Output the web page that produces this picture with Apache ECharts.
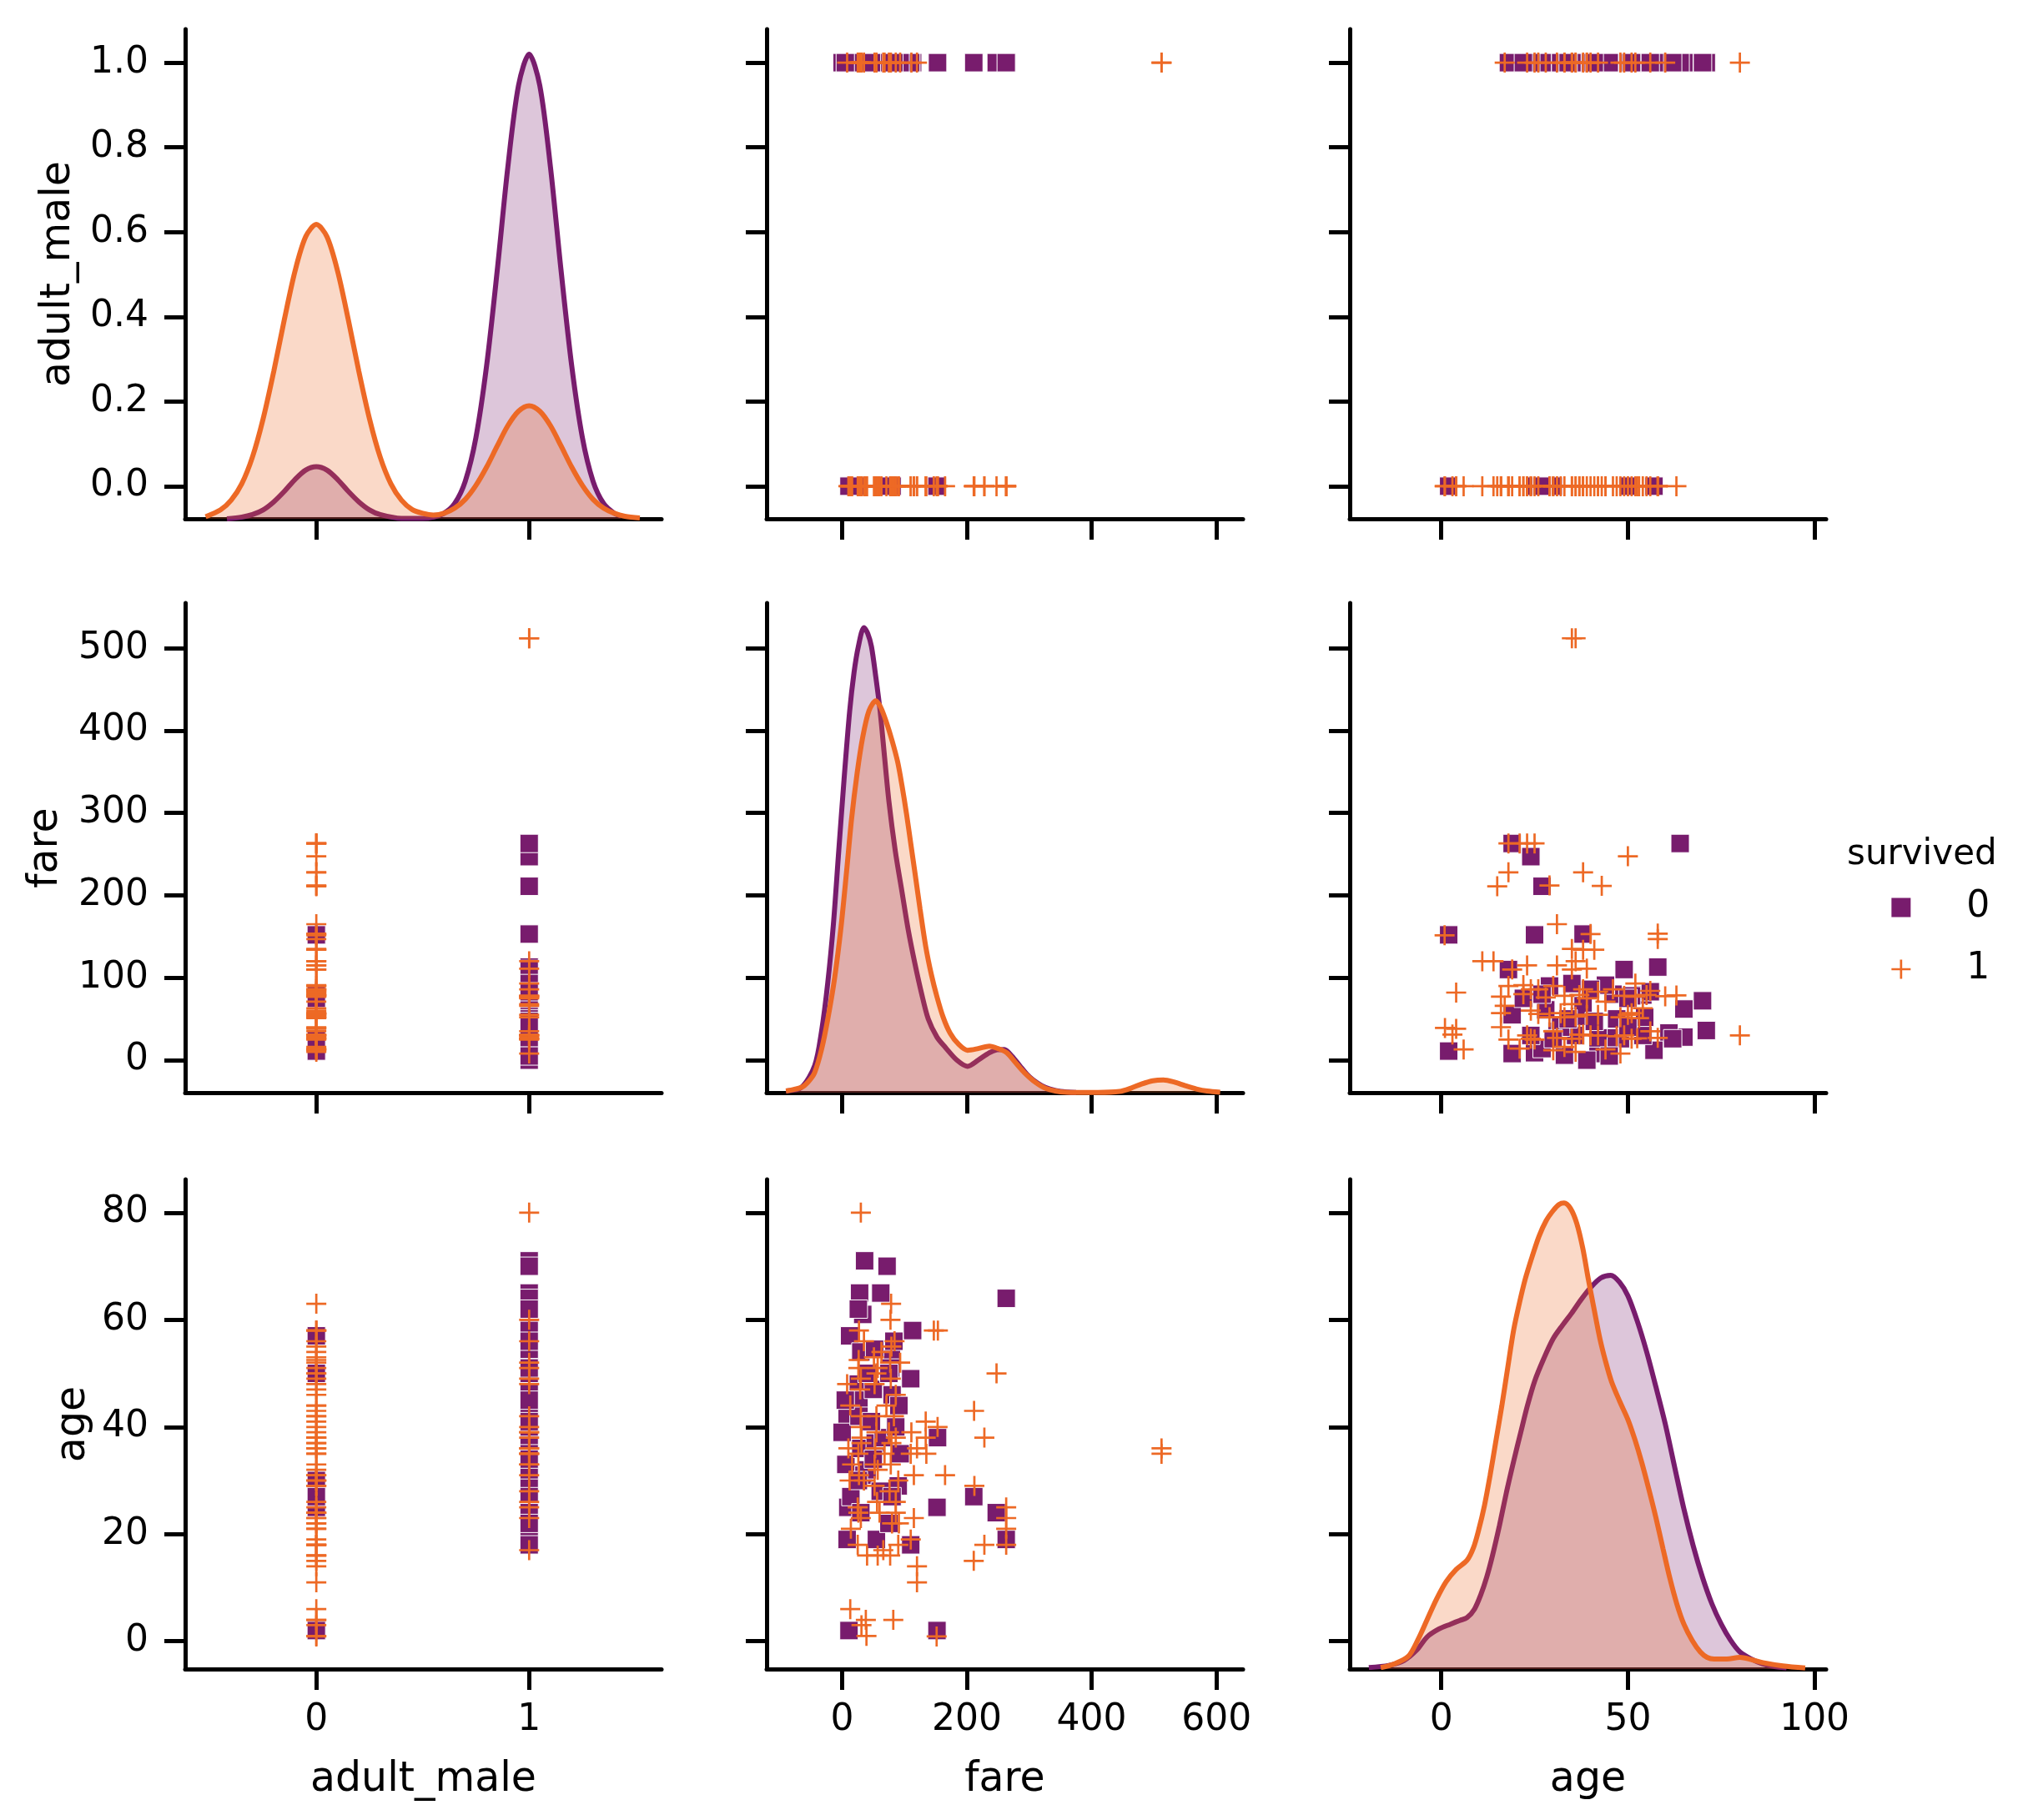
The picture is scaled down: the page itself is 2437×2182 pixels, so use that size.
<!DOCTYPE html>
<html><head><meta charset="utf-8">
<script src="https://cdn.jsdelivr.net/npm/echarts@6/dist/echarts.min.js"></script>
<style>html,body{margin:0;padding:0;background:#fff}#c{width:2437px;height:2182px}</style>
</head><body><div id="c"></div>
<script>
// ---------------- data ----------------
const variables = ['adult_male', 'fare', 'age'];
const hueTitle = 'survived';
const hueLevels = ['0', '1'];

// survived = 0
const died_adult_male = [1,1,1,1,1,1,1,0,1,1,1,1,1,1,1,1,1,1,1,0,1,1,1,1,1,1,0,0,1,1,1,1,1,1,1,1,1,1,1,1,1,1,1,1,1,0,0,0,1,1,1,1,1,1,1];
const died_fare = [36,72,28,62,263,33,113,12,30,79,28,110,80,91,8,0,153,6,9,152,211,247,263,8,55,110,11,152,52,26,27,50,40,78,30,53,66,86,35,61,90,14,30,75,40,26,80,75,26,93,27,5,50,83,47];
const died_age = [71,70,65,65,64,61,58,57,54,54,48,49,46,44,42,39,38,33,25,25,27,24,19,19,19,18,2,2,54.5,48,45,47,50,51,36,37,38,40,31,28,29,27,24,22,32,30,27,50,62,35,42,45,34,56,41];

// survived = 1
const surv_adult_male = [1,0,1,0,0,0,1,0,0,0,1,0,0,0,1,0,0,0,0,0,1,0,1,0,1,0,0,0,0,0,0,0,0,0,0,0,0,0,0,0,0,0,0,1,1,
  0,0,0,1,0,0,0,1,0,0,0,0,1,0,0,1,0,0,0,1,0,0,1,0,0,1,0,0,1,1,0,0,0,0,0,0,1,0,0,0,0,1,1,1,1,0,0,1,0,0,0];
const surv_fare = [30,78.5,77.5,147,153.5,27,35,84,51,79,93,247.5,26.5,55,78,30,211.5,228,134,153,111,55,75,135,120,165,115,212,115,263,263,263,263,228,211,120,120,13,38,82,31,39,151.5,512,512,
  25,40,57,66,77,90,26,30,56,60,80,86,76,12,16,27,35,52,57,78,90,10,26,31,53,68,79,86,30,55,83,13,29,52,71,86,26,57,77,63,30,25,86,52,31,110,110,8,14,91,134];
const surv_age = [80,63,60,58,58,58,56,56,53,55,52,50,52.5,50,49,49,43,38,41,40,39,39,39,35,36,31,31,29,23,25,23,21,18,18,15,14,11,6,4,4,3,1,0.9,36,35,
  18,16,16,17,16,18,24,23,26,24,22,24,28,30,33,31,30,29,32,33,30,36,35,37,36,35,37,38,40,42,42,44,47,48,44,46,51,51,52,54,42,25,26,33,38,35,19,48,21,22,38];

// tick values
const xTicks = { adult_male: [0, 1], fare: [0, 200, 400, 600], age: [0, 50, 100] };
const yTicks = { adult_male: [0, 0.2, 0.4, 0.6, 0.8, 1.0], fare: [0, 100, 200, 300, 400, 500], age: [0, 20, 40, 60, 80] };

// diagonal density curves in the row's display units
const kde_adult_male_0 = [[-0.42,-0.077],[-0.35,-0.073],[-0.3,-0.067],[-0.25,-0.056],[-0.2,-0.037],[-0.15,-0.012],[-0.1,0.016],[-0.05,0.038],[0,0.046],[0.05,0.038],[0.1,0.016],[0.15,-0.012],[0.2,-0.037],[0.25,-0.056],[0.3,-0.067],[0.4,-0.076],[0.5,-0.076],[0.55,-0.073],[0.6,-0.064],[0.65,-0.041],[0.7,0.012],[0.75,0.115],[0.8,0.284],[0.85,0.509],[0.9,0.754],[0.95,0.946],[1.0,1.02],[1.05,0.946],[1.1,0.754],[1.15,0.509],[1.2,0.284],[1.25,0.115],[1.3,0.012],[1.35,-0.041],[1.4,-0.064],[1.43,-0.07]];
const kde_adult_male_1 = [[-0.52,-0.072],[-0.45,-0.056],[-0.4,-0.033],[-0.35,0.006],[-0.3,0.069],[-0.25,0.159],[-0.2,0.271],[-0.15,0.394],[-0.1,0.508],[-0.05,0.589],[0,0.618],[0.05,0.589],[0.1,0.508],[0.15,0.394],[0.2,0.271],[0.25,0.159],[0.3,0.069],[0.35,0.006],[0.4,-0.033],[0.45,-0.055],[0.5,-0.064],[0.55,-0.068],[0.6,-0.064],[0.65,-0.052],[0.7,-0.031],[0.75,0.002],[0.8,0.045],[0.85,0.095],[0.9,0.143],[0.95,0.177],[1.0,0.19],[1.05,0.177],[1.1,0.143],[1.15,0.095],[1.2,0.045],[1.25,0.002],[1.3,-0.031],[1.35,-0.052],[1.4,-0.064],[1.45,-0.071],[1.52,-0.075]];
const kde_fare_0 = [[-90,-37.5],[-65,-33],[-44,-6.6],[-33,35],[-23,94],[-14,165],[-6,248],[3,340],[12,423],[19,470],[26,502],[35,525],[41,518],[47,502],[54,465],[61,423],[68,368],[75,314],[85,255],[96,204],[106,158],[117,116],[127,82],[138,50],[152,28],[166,15],[184,0],[201,-7.5],[218,0],[236,9],[248,12.5],[260,13],[272,5],[285,-7],[296,-17],[306,-24],[320,-31],[333,-35],[350,-38],[375,-39.3]];
const kde_fare_1 = [[-90,-37.5],[-65,-33],[-54,-26],[-44,-15],[-33,13],[-23,50],[-12,100],[-2,160],[7,228],[15,292],[24,348],[33,392],[43,424],[54,436],[62,428],[71,410],[80,388],[89,362],[96,333],[103,300],[110,263],[117,226],[125,183],[134,138],[143,104],[152,77],[162,52],[173,33],[187,19],[201,12],[218,14],[236,17],[250,14],[264,9],[278,-3],[292,-15],[310,-27],[327,-34.5],[350,-38.5],[375,-39.2],[410,-39.2],[445,-38],[463,-34],[480,-29],[498,-25],[515,-24],[532,-26.5],[550,-31],[568,-35],[585,-37.5],[606,-39]];
const kde_age_0 = [[-19.4,-4.9],[-14,-4.5],[-10,-3.6],[-6.5,-1.6],[-3.8,0.8],[-0.6,2.3],[2.5,3.2],[5,3.9],[6.9,4.4],[8.9,6],[10.6,8.7],[12.2,12],[13.7,15.9],[15.6,21.6],[17.5,27.9],[19.4,33.6],[21.3,39],[23.1,44],[25,48.5],[27.5,52.8],[30,56.5],[32.5,59],[35,61.3],[37.5,63.8],[40,66],[42.7,67.8],[45.4,68.3],[47.8,67],[50,64.5],[52.5,59.8],[55,54.1],[57.5,47.5],[60,40.6],[62.5,32.6],[65,24.7],[67.5,17.8],[70,11.9],[72.5,7],[75,3.2],[77.5,0.2],[80,-2],[83,-3.3],[86,-4.2],[89,-4.7],[92.5,-5]];
const kde_age_1 = [[-16.2,-4.9],[-12.5,-4.2],[-8.8,-2.8],[-6.3,0.2],[-3.8,4],[-1.3,7.8],[1.3,11.1],[4,13.4],[6.9,15.1],[8.6,17.4],[10,20.7],[11.6,25.4],[13.1,31],[14.6,37.2],[16.2,43.8],[17.8,51],[19.4,58.1],[21,63.3],[22.5,67.6],[24.4,71.9],[26.2,75.6],[28.1,78.5],[30,80.4],[31.5,81.5],[32.9,81.8],[34.6,80.8],[36.3,78],[37.9,73.4],[39.4,67.6],[41,61.8],[42.5,56.5],[44,52.3],[45.6,48.5],[47.8,44.8],[50,41.4],[51.9,37.6],[53.7,33.4],[55.6,28.4],[57.5,23.1],[59.4,17.3],[61.2,11.9],[63.1,7],[65,3.2],[67.2,0.2],[69.4,-2],[71.2,-3],[73.1,-3.3],[76.5,-3.3],[80,-3],[83,-3.4],[86.2,-4],[91.5,-4.6],[97.5,-5]];

// ---------------- layout / style ----------------
const PURPLE = '#781c6d', ORANGE = '#ed6925';
const FONT = 'DejaVu Sans';
const colLeft = [222, 919, 1618], rowTop = [35, 723, 1414];
const CW = 571, CH = 587;
const xRange = { adult_male: [-0.616, 1.622], fare: [-121, 642.6], age: [-24.5, 103.1] };
const yRange = { adult_male: [-0.077, 1.079], fare: [-39.5, 554.8], age: [-5.18, 86.2] };
const yNameGap = [127, 142, 109];

const died = { adult_male: died_adult_male, fare: died_fare, age: died_age };
const surv = { adult_male: surv_adult_male, fare: surv_fare, age: surv_age };
const kdes = {
  adult_male: [kde_adult_male_0, kde_adult_male_1],
  fare: [kde_fare_0, kde_fare_1],
  age: [kde_age_0, kde_age_1]
};

const grids = [], xAxes = [], yAxes = [], scatterSeries = [], lineSeries = [];
for (let r = 0; r < 3; r++) {
  for (let c = 0; c < 3; c++) {
    const k = r * 3 + c;
    const xv = variables[c], yv = variables[r];
    grids.push({ left: colLeft[c], top: rowTop[r], width: CW, height: CH, containLabel: false });
    xAxes.push({
      type: 'value', gridIndex: k, min: xRange[xv][0], max: xRange[xv][1],
      axisLine: { show: true, onZero: false, lineStyle: { color: '#000', width: 5 } },
      axisTick: { show: true, inside: false, length: 25, lineStyle: { color: '#000', width: 5 }, customValues: xTicks[xv] },
      axisLabel: { show: r === 2, customValues: xTicks[xv], margin: 40, fontSize: 44, fontFamily: FONT, color: '#000',
        formatter: v => String(v) },
      splitLine: { show: false },
      name: r === 2 ? xv : '', nameLocation: 'middle', nameGap: 109,
      nameTextStyle: { fontSize: 49, fontFamily: FONT, color: '#000' }
    });
    yAxes.push({
      type: 'value', gridIndex: k, min: yRange[yv][0], max: yRange[yv][1],
      axisLine: { show: true, onZero: false, lineStyle: { color: '#000', width: 5 } },
      axisTick: { show: true, inside: false, length: 25, lineStyle: { color: '#000', width: 5 }, customValues: yTicks[yv] },
      axisLabel: { show: c === 0, customValues: yTicks[yv], margin: 44, fontSize: 44, fontFamily: FONT, color: '#000',
        formatter: v => yv === 'adult_male' ? v.toFixed(1) : String(v) },
      splitLine: { show: false },
      name: c === 0 ? yv : '', nameLocation: 'middle', nameGap: yNameGap[r], nameRotate: 90,
      nameTextStyle: { fontSize: 49, fontFamily: FONT, color: '#000' }
    });
    if (r === c) {
      [0, 1].forEach(h => {
        const col = h === 0 ? PURPLE : ORANGE;
        lineSeries.push({
          type: 'line', name: hueLevels[h], xAxisIndex: k, yAxisIndex: k, data: kdes[xv][h],
          showSymbol: false, symbol: 'none', smooth: 0.3,
          lineStyle: { color: col, width: 6 }, itemStyle: { color: col },
          areaStyle: { color: col, opacity: 0.25, origin: 'start' }, z: 2 + h
        });
      });
    } else {
      scatterSeries.push({
        type: 'scatter', name: hueLevels[0], xAxisIndex: k, yAxisIndex: k,
        data: died[xv].map((v, i) => [v, died[yv][i]]),
        symbol: 'rect', symbolSize: 22,
        itemStyle: { color: PURPLE, borderColor: '#ffffff', borderWidth: 1, opacity: 1 }, z: 2
      });
      scatterSeries.push({
        type: 'scatter', name: hueLevels[1], xAxisIndex: k, yAxisIndex: k,
        data: surv[xv].map((v, i) => [v, surv[yv][i]]),
        symbol: 'path://M10 0 L10 20 M0 10 L20 10', symbolSize: 24, symbolKeepAspect: true,
        itemStyle: { color: 'rgba(0,0,0,0)', borderColor: ORANGE, borderWidth: 2.7, opacity: 1 }, z: 3
      });
    }
  }
}

const chart = echarts.init(document.getElementById('c'), null, { renderer: 'canvas' });
chart.setOption({
  animation: false,
  backgroundColor: '#ffffff',
  textStyle: { fontFamily: FONT },
  grid: grids, xAxis: xAxes, yAxis: yAxes,
  legend: {
    orient: 'vertical', left: 2261, top: 1058, itemWidth: 23, itemHeight: 23, itemGap: 24,
    selectedMode: false,
    data: [
      { name: '0', icon: 'rect', itemStyle: { color: PURPLE, borderWidth: 0 } },
      { name: '1', icon: 'path://M10 0 L10 20 M0 10 L20 10', itemStyle: { color: 'rgba(0,0,0,0)', borderColor: ORANGE, borderWidth: 2.7 } }
    ],
    textStyle: { fontSize: 44, fontFamily: FONT, color: '#000', padding: [0, 0, 0, 62], lineHeight: 50 }
  },
  graphic: [{
    type: 'text', left: 2214, top: 1004,
    style: { text: hueTitle, fontSize: 42, fontFamily: FONT, fill: '#000' }
  }],
  series: scatterSeries.concat(lineSeries)
});
</script>
</body></html>
